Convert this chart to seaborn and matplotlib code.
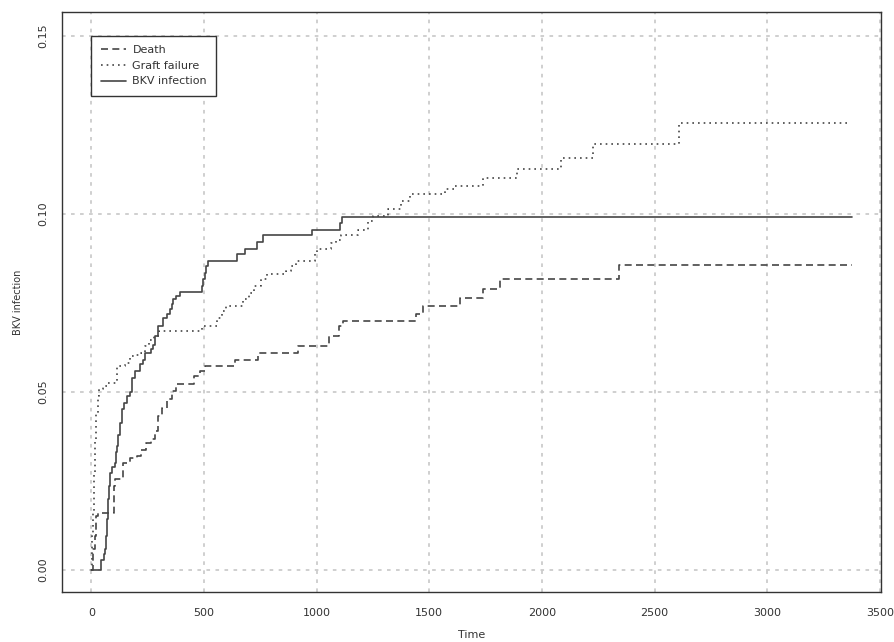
import matplotlib
matplotlib.use("Agg")
import matplotlib.pyplot as plt
import seaborn as sns
import pandas as pd
from matplotlib.lines import Line2D

# ---- data ----
death_t = [0, 9, 16, 22, 28, 100, 106, 140, 170, 205, 222, 245, 265, 282, 297, 312, 334,
           356, 378, 458, 482, 504, 637, 740, 918, 1055, 1100, 1118, 1443, 1472, 1635,
           1738, 1812, 2343, 3375]
death_v = [0, 0.0060, 0.0095, 0.0151, 0.0160, 0.0235, 0.0254, 0.0301, 0.0315, 0.0320,
           0.0338, 0.0357, 0.0367, 0.0390, 0.0432, 0.0456, 0.0479, 0.0502, 0.0521, 0.0544,
           0.0559, 0.0573, 0.0591, 0.0610, 0.0629, 0.0657, 0.0685, 0.0699, 0.0718, 0.0741,
           0.0765, 0.0788, 0.0816, 0.0856, 0.0856]

graft_t = [0, 5, 9, 12, 16, 20, 28, 36, 50, 75, 114, 150, 170, 200, 222, 238, 258, 280,
           300, 491, 558, 582, 598, 672, 700, 722, 752, 780, 866, 886, 910, 992, 1003,
           1062, 1088, 1108, 1185, 1230, 1252, 1315, 1376, 1413, 1571, 1610, 1740, 1890,
           2085, 2226, 2607, 3362]
graft_v = [0, 0.0105, 0.0160, 0.0274, 0.0367, 0.0442, 0.0488, 0.0507, 0.0516, 0.0526,
           0.0573, 0.0582, 0.0600, 0.0605, 0.0610, 0.0629, 0.0647, 0.0657, 0.0671, 0.0685,
           0.0708, 0.0727, 0.0741, 0.0760, 0.0779, 0.0797, 0.0816, 0.0830, 0.0839, 0.0853,
           0.0867, 0.0886, 0.0900, 0.0919, 0.0928, 0.0940, 0.0956, 0.0980, 0.0994, 0.1013,
           0.1036, 0.1055, 0.1069, 0.1077, 0.1100, 0.1125, 0.1158, 0.1195, 0.1256, 0.1256]

bkv_t = [0, 44, 55, 62, 67, 71, 76, 80, 85, 92, 104, 110, 114, 118, 126, 135, 146, 157,
         170, 182, 194, 216, 230, 237, 264, 275, 284, 297, 318, 334, 348, 356, 364, 378,
         392, 491, 497, 504, 511, 518, 646, 683, 735, 764, 979, 1105, 1112, 3378]
bkv_v = [0, 0.0028, 0.0044, 0.0058, 0.0095, 0.0142, 0.0198, 0.0235, 0.0273, 0.0288,
         0.0301, 0.0330, 0.0348, 0.0380, 0.0413, 0.0451, 0.0470, 0.0488, 0.0500, 0.0540,
         0.0559, 0.0577, 0.0591, 0.0610, 0.0620, 0.0633, 0.0657, 0.0685, 0.0708, 0.0718,
         0.0732, 0.0746, 0.0760, 0.0768, 0.0780, 0.0797, 0.0816, 0.0835, 0.0853, 0.0867,
         0.0886, 0.0902, 0.0920, 0.0940, 0.0956, 0.0975, 0.0992, 0.0992]

labels = ["Death", "Graft failure", "BKV infection"]
x_ticks = [0, 500, 1000, 1500, 2000, 2500, 3000, 3500]
y_ticks = [0.00, 0.05, 0.10, 0.15]
y_ticklabels = ["0.00", "0.05", "0.10", "0.15"]

# ---- style ----
sns.set_style("white")
plt.rcParams["font.family"] = ["DejaVu Sans"]

line_col = "#454545"
grid_col = "#cbcbcb"
text_col = "#333333"
lw = 1.2
styles = [(0, (4.2, 2.6)), (0, (1.0, 2.4)), "-"]

fig = plt.figure(figsize=(8.95, 6.42), dpi=100)
W, H = 895, 642
ax = fig.add_axes([62 / W, (H - 592) / H, (881 - 62) / W, (592 - 12) / H])

series = [(death_t, death_v), (graft_t, graft_v), (bkv_t, bkv_v)]
for (t, v), lab, ls in zip(series, labels, styles):
    df = pd.DataFrame({"Time": t, "value": v})
    sns.lineplot(data=df, x="Time", y="value", ax=ax, drawstyle="steps-post",
                 color=line_col, linewidth=lw, linestyle=ls, estimator=None,
                 sort=False, legend=False)

ax.set_xlim(-130, 3505)
ax.set_ylim(-0.0062, 0.1567)

# grid
for xv in x_ticks:
    ax.axvline(xv, color=grid_col, lw=1.3, ls=(0, (2.0, 3.0)), zorder=0)
for yv in y_ticks:
    ax.axhline(yv, color=grid_col, lw=1.3, ls=(0, (2.0, 3.0)), zorder=0)

ax.set_xticks(x_ticks)
ax.set_xticklabels([str(x) for x in x_ticks])
ax.set_yticks(y_ticks)
ax.set_yticklabels(y_ticklabels, rotation=90, va="center")
ax.tick_params(axis="both", direction="out", length=5.2, width=0.9, color=text_col,
               labelcolor=text_col, labelsize=8)
ax.tick_params(axis="x", pad=6)
ax.tick_params(axis="y", pad=5)

for s in ax.spines.values():
    s.set_visible(True)
    s.set_color(text_col)
    s.set_linewidth(1.0)

ax.set_xlabel("Time", fontsize=8, color=text_col, labelpad=9)
ax.set_ylabel("BKV infection", fontsize=7, color=text_col, labelpad=11)

handles = [Line2D([0], [0], color=line_col, lw=lw, ls=ls) for ls in styles]
leg = ax.legend(handles, labels, loc="upper left", bbox_to_anchor=(0, 0.15),
                bbox_transform=ax.transData, borderaxespad=0, fontsize=8,
                handlelength=2.3, handletextpad=0.55, borderpad=0.85,
                labelspacing=0.5, fancybox=False, framealpha=1,
                edgecolor=text_col)
leg.get_frame().set_linewidth(1.0)
for txt in leg.get_texts():
    txt.set_color(text_col)

fig.savefig("out.png", dpi=100)
